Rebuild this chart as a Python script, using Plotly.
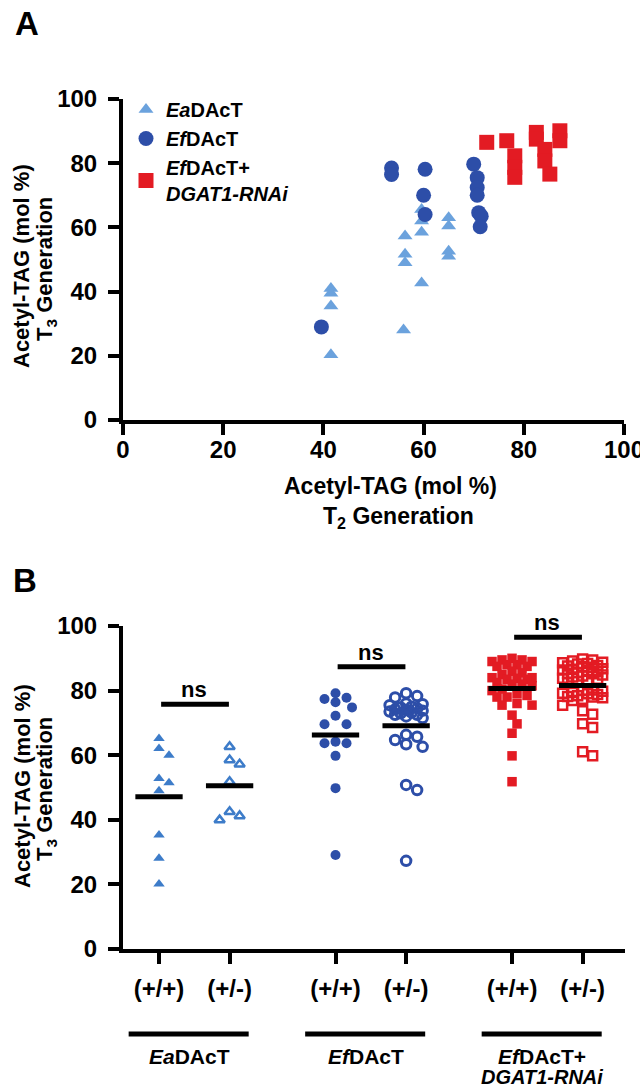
import numpy as np
import plotly.graph_objects as go

# ---------------- DATA ----------------
# Panel A: T2 vs T3 acetyl-TAG (mol %)
ea_t2 = [41.5, 41.5, 41.5, 41.5, 56.3, 56.3, 56.3, 56.0, 59.6, 59.6, 59.6, 59.6, 65.0, 65.0, 65.0, 65.0]
ea_t3 = [41.0, 39.5, 35.5, 20.3, 57.3, 51.6, 49.0, 28.0, 65.6, 62.0, 58.5, 42.7, 63.0, 60.4, 52.6, 51.0]
ef_t2 = [39.6, 53.6, 53.6, 60.3, 60.0, 60.3, 70.0, 70.7, 70.7, 70.7, 71.0, 71.5, 71.3]
ef_t3 = [29.0, 78.5, 76.5, 78.1, 70.0, 64.0, 79.7, 75.5, 72.4, 70.0, 64.6, 63.5, 60.2]
rnai_t2 = [72.6, 76.6, 78.2, 78.2, 78.2, 82.5, 82.5, 84.2, 84.2, 85.2, 87.2, 87.2]
rnai_t3 = [86.5, 87.0, 82.3, 78.7, 75.6, 89.6, 87.5, 84.3, 80.7, 76.6, 90.1, 87.0]

# Panel B: T3 acetyl-TAG by genotype
ea_hom = [65.2, 62.1, 60.0, 52.8, 51.5, 49.0, 35.3, 28.1, 20.1]
ea_het = [62.6, 58.5, 57.2, 51.8, 42.5, 41.2, 39.9]
ef_hom = [79.2, 77.8, 77.4, 76.4, 74.8, 72.2, 69.6, 69.6, 64.2, 63.7, 63.7, 59.8, 49.8, 29.1]
ef_het = [79.2, 78.3, 77.9, 76.0, 75.8, 75.5, 75.0, 74.8, 74.5, 74.2, 74.0, 73.8, 73.5, 73.2,
          73.0, 72.5, 72.5, 72.0, 71.5, 66.3, 65.7, 64.7, 63.4, 62.6, 50.8, 49.2, 27.3]
rnai_hom = [90.0, 89.5, 89.5, 89.0, 89.0, 88.0, 88.0, 87.5, 87.5, 86.0, 85.5, 85.0, 84.0, 84.0,
            83.8, 83.5, 83.5, 82.5, 82.0, 82.0, 81.5, 80.5, 80.0, 79.0, 78.5, 78.0, 78.0, 76.0,
            75.5, 75.5, 72.4, 69.7, 66.8, 59.8, 51.8]
rnai_het = [89.8, 89.5, 89.2, 88.8, 88.6, 88.4, 88.2, 87.8, 87.6, 87.4, 87.2, 86.8, 86.6, 86.4,
            86.2, 85.8, 85.6, 85.4, 85.2, 84.8, 84.5, 84.2, 83.8, 83.5, 83.2, 82.8, 82.4, 80.2,
            80.0, 79.8, 79.4, 79.2, 79.0, 78.8, 78.4, 78.2, 78.0, 77.8, 77.3, 76.9, 75.5, 73.8,
            72.7, 69.7, 68.6, 61.1, 59.8]

genotype_labels = ["(+/+)", "(+/-)", "(+/+)", "(+/-)", "(+/+)", "(+/-)"]
group_line1 = ["<i>Ea</i>DAcT", "<i>Ef</i>DAcT", "<i>Ef</i>DAcT+"]
group_line2 = ["", "", "<i>DGAT1-RNAi</i>"]
ns_labels = ["ns", "ns", "ns"]
a_ticks = [0, 20, 40, 60, 80, 100]

# ---------------- STYLE / LAYOUT CONSTANTS ----------------
W, H = 640, 1087
FONT = "Liberation Sans, Arial, sans-serif"
C_EA_A = "#6BA2DD"
C_EA_B = "#3D7CC9"
C_EF = "#2D4EA8"
C_RED = "#E31B23"

def px_x(x):
    return x / W

def px_y(y):
    return 1 - y / H

cat_pos = [0, 1, 2.5, 3.5, 5, 6]
group_centers = [0.5, 3.0, 5.5]
ns_bar_y = [75.8, 87.4, 96.5]

# Pixel scale of panel B (for swarm spreading)
UX = (625 - 123) / (6.6 + 0.51)
UY = (949 - 626) / 100.0


def swarm(vals, d_px, cap):
    vals = np.asarray(vals, float)
    order = np.argsort(-vals)
    offs = np.zeros(len(vals))
    placed = []
    step = d_px / 2.0
    cands = [0.0]
    for k in range(1, 60):
        cands += [k * step, -k * step]
    for i in order:
        yy = vals[i] * UY
        chosen = None
        bestc, bestd = 0.0, -1.0
        for c in cands:
            if abs(c) > cap * UX:
                continue
            md = min((np.hypot(c - p[0], yy - p[1]) for p in placed), default=1e9)
            if md >= d_px:
                chosen = c
                break
            if md > bestd:
                bestd, bestc = md, c
        if chosen is None:
            chosen = bestc
        placed.append((chosen, yy))
        offs[i] = chosen / UX
    return offs


fig = go.Figure()

# ---------------- PANEL A ----------------
fig.add_trace(go.Scatter(x=ea_t2, y=ea_t3, mode="markers", name="<b><i>Ea</i>DAcT</b>",
                         marker=dict(symbol="triangle-up", size=13, color=C_EA_A),
                         xaxis="x", yaxis="y"))
fig.add_trace(go.Scatter(x=ef_t2, y=ef_t3, mode="markers", name="<b><i>Ef</i>DAcT</b>",
                         marker=dict(symbol="circle", size=15, color=C_EF),
                         xaxis="x", yaxis="y"))
fig.add_trace(go.Scatter(x=rnai_t2, y=rnai_t3, mode="markers",
                         name="<b><i>Ef</i>DAcT+<br><i>DGAT1-RNAi</i></b>",
                         marker=dict(symbol="square", size=15, color=C_RED),
                         xaxis="x", yaxis="y"))

# ---------------- PANEL B ----------------
groups = [
    (ea_hom, dict(symbol="triangle-up", size=10, color=C_EA_B), 10),
    (ea_het, dict(symbol="triangle-up-open", size=9, color=C_EA_B, line=dict(width=2.5, color=C_EA_B)), 10),
    (ef_hom, dict(symbol="circle", size=10, color=C_EF), 11),
    (ef_het, dict(symbol="circle-open", size=9.5, color=C_EF, line=dict(width=3, color=C_EF)), 11),
    (rnai_hom, dict(symbol="square", size=9.5, color=C_RED), 10),
    (rnai_het, dict(symbol="square-open", size=9, color=C_RED, line=dict(width=2.5, color=C_RED)), 10),
]
for pos, (vals, mk, d) in zip(cat_pos, groups):
    offs = swarm(vals, d, 0.31)
    fig.add_trace(go.Scatter(x=pos + offs, y=vals, mode="markers", marker=mk,
                             showlegend=False, xaxis="x2", yaxis="y2"))
    m = float(np.mean(vals))
    fig.add_trace(go.Scatter(x=[pos - 0.335, pos + 0.335], y=[m, m], mode="lines",
                             line=dict(color="black", width=5), showlegend=False,
                             xaxis="x2", yaxis="y2"))

shapes = []
annotations = []


def note(x, y, text, size, xref="paper", yref="paper", angle=0, yanchor="middle"):
    annotations.append(dict(xref=xref, yref=yref, x=x, y=y, text=text, showarrow=False,
                            xanchor="center", yanchor=yanchor, textangle=angle,
                            font=dict(family=FONT, size=size, color="black")))


# ns bars + labels
for (a, b), yb, lab in zip([(0, 1), (2.5, 3.5), (5, 6)], ns_bar_y, ns_labels):
    shapes.append(dict(type="line", xref="x2", yref="y2", x0=a + 0.03, x1=b - 0.01, y0=yb, y1=yb,
                       line=dict(color="black", width=5)))
    note((a + b) / 2, yb, "<b>%s</b>" % lab, 22, xref="x2", yref="y2", yanchor="bottom")

# group bars and labels under panel B
for c, l1, l2 in zip(group_centers, group_line1, group_line2):
    shapes.append(dict(type="line", xref="x2", yref="paper", x0=c - 0.93, x1=c + 0.77,
                       y0=px_y(1034), y1=px_y(1034), line=dict(color="black", width=5)))
    note(c - 0.07, px_y(1056), "<b>%s</b>" % l1, 21, xref="x2")
    if l2:
        note(c - 0.07, px_y(1077), "<b>%s</b>" % l2, 20, xref="x2")

# panel letters
note(px_x(27), px_y(23), "<b>A</b>", 33)
note(px_x(25), px_y(580), "<b>B</b>", 33)

# y titles
for yc in (266, 786):
    note(px_x(22), px_y(yc), "<b>Acetyl-TAG (mol %)</b>", 22, angle=-90)
    note(px_x(46), px_y(yc + 3), "<b>T<sub>3</sub> Generation</b>", 22, angle=-90)

# x title panel A
note(px_x(390), px_y(486), "<b>Acetyl-TAG (mol %)</b>", 23)
note(px_x(398), px_y(517), "<b>T<sub>2</sub> Generation</b>", 23)

axis_common = dict(showgrid=False, zeroline=False, showline=True, linewidth=4, linecolor="black",
                   ticks="outside", ticklen=11, tickwidth=4, tickcolor="black", automargin=False,
                   ticklabeloverflow="allow",
                   tickfont=dict(family=FONT, size=24, color="black", weight="bold"))

fig.update_layout(
    width=W, height=H, margin=dict(l=0, r=0, t=0, b=0, autoexpand=False),
    paper_bgcolor="white", plot_bgcolor="white",
    xaxis=dict(domain=[px_x(123), px_x(624)], range=[0, 100], tickvals=a_ticks,
               anchor="y", ticklabelstandoff=-6, **axis_common),
    yaxis=dict(domain=[px_y(420), px_y(99)], range=[0, 100], tickvals=a_ticks,
               anchor="x", ticklabelstandoff=6, **axis_common),
    xaxis2=dict(domain=[px_x(123), px_x(625)], range=[-0.51, 6.6], tickvals=cat_pos,
                ticktext=genotype_labels, anchor="y2", ticklabelstandoff=4, **axis_common),
    yaxis2=dict(domain=[px_y(949), px_y(626)], range=[0, 100], tickvals=a_ticks,
                anchor="x2", ticklabelstandoff=6, **axis_common),
    legend=dict(x=px_x(126), y=px_y(90), xanchor="left", yanchor="top",
                bgcolor="rgba(0,0,0,0)", borderwidth=0, itemsizing="trace",
                font=dict(family=FONT, size=20, color="black"), tracegroupgap=0),
    shapes=shapes, annotations=annotations,
)

fig.write_html("out.html", config={"displayModeBar": False},
               post_script="document.body.style.margin='0px';")
